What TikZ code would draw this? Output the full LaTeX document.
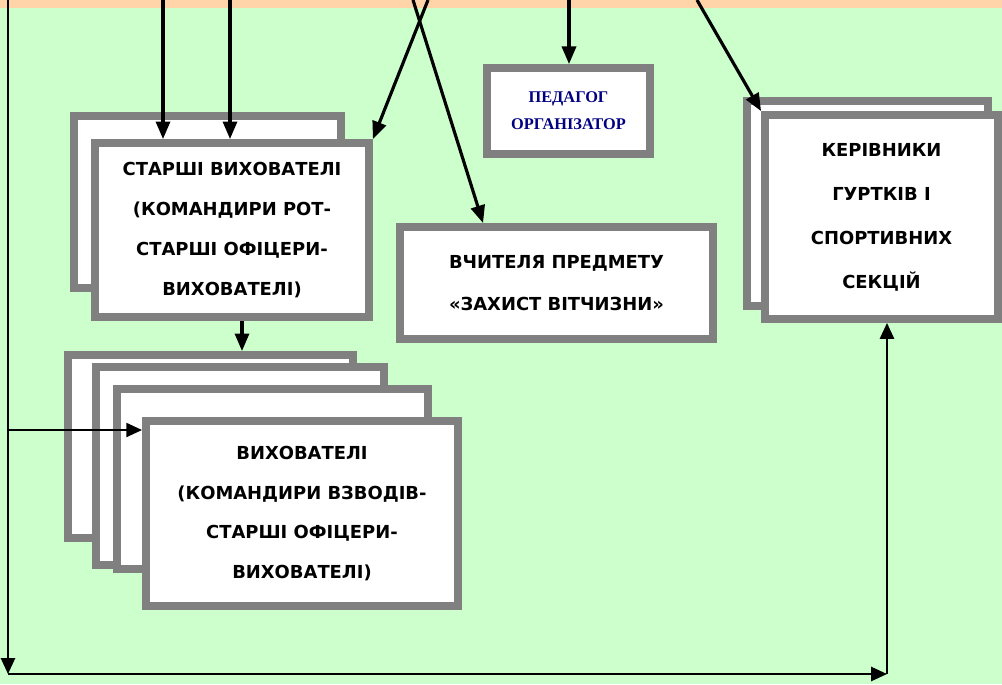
\documentclass[tikz,border=0pt]{standalone}
\usepackage{fontspec}
\usetikzlibrary{arrows.meta}
\newfontfamily\gothic{DejaVu Sans}
\newfontfamily\romanb{Liberation Serif}
\definecolor{bggreen}{RGB}{204,255,204}
\definecolor{toppeach}{RGB}{255,212,168}
\definecolor{boxgray}{RGB}{128,128,128}
\definecolor{navyblue}{RGB}{0,0,128}
\tikzset{
  frame/.style={draw=boxgray, fill=white, line width=4.5pt, inner sep=0pt, align=center},
  caps/.style={font=\gothic\bfseries\fontsize{10.2}{22.7}\selectfont},
  arr/.style={line width=1.8pt, -{Triangle[length=10pt,width=8pt]}},
  thinarr/.style={line width=1.2pt, -{Triangle[length=9pt,width=8pt]}}
}
\begin{document}
\begin{tikzpicture}[x=0.02cm,y=-0.02cm]
  \useasboundingbox (0,0) rectangle (1002,684);
  \fill[bggreen] (0,0) rectangle (1002,684);
  \fill[toppeach] (0,0) rectangle (1002,8);

  % back copies
  \node[frame, minimum width=5.34cm, minimum height=3.44cm] (starshiB) at (207.5,202) {};
  \node[frame, minimum width=4.82cm, minimum height=4.10cm] (kerivB) at (867.5,203.5) {};
  \node[frame, minimum width=5.70cm, minimum height=3.66cm] (vyhA) at (210.5,446.5) {};
  \node[frame, minimum width=5.76cm, minimum height=3.96cm] (vyhB) at (240,466) {};
  \node[frame, minimum width=6.22cm, minimum height=3.60cm] (vyhC) at (272.5,479) {};

  % front boxes
  \node[frame, caps, minimum width=5.48cm, minimum height=3.48cm] (starshi) at (232,230)
    {СТАРШІ ВИХОВАТЕЛІ\\(КОМАНДИРИ РОТ-\\СТАРШІ ОФІЦЕРИ-\\ВИХОВАТЕЛІ)};
  \node[frame, font=\romanb\bfseries\fontsize{9.3}{15.3}\selectfont, text=navyblue,
    minimum width=3.26cm, minimum height=1.72cm] (pedagog) at (568.5,111)
    {ПЕДАГОГ\\ОРГАНІЗАТОР};
  \node[frame, caps, font=\gothic\bfseries\fontsize{10.2}{24}\selectfont,
    minimum width=6.26cm, minimum height=2.24cm] (vchyteli) at (556.5,283)
    {ВЧИТЕЛЯ ПРЕДМЕТУ\\«ЗАХИСТ ВІТЧИЗНИ»};
  \node[frame, caps, font=\gothic\bfseries\fontsize{10.2}{25}\selectfont,
    minimum width=4.66cm, minimum height=4.08cm] (keriv) at (881.5,217)
    {КЕРІВНИКИ\\ГУРТКІВ І\\СПОРТИВНИХ\\СЕКЦІЙ};
  \node[frame, caps, minimum width=6.24cm, minimum height=3.70cm] (vyh) at (302,513.5)
    {ВИХОВАТЕЛІ\\(КОМАНДИРИ ВЗВОДІВ-\\СТАРШІ ОФІЦЕРИ-\\ВИХОВАТЕЛІ)};

  % lines coming from above
  \coordinate (t0) at (8,0);
  \coordinate (t1) at (163,0);
  \coordinate (t2) at (230,0);
  \coordinate (t3) at (428,0);
  \coordinate (t4) at (413,0);
  \coordinate (t5) at (569,0);
  \coordinate (t6) at (697,0);
  \coordinate (c1) at (8,674);
  \coordinate (c2) at (887,674);
  \coordinate (c3) at (8,430);

  \draw[arr] (t1) -- (t1 |- starshi.north);
  \draw[arr] (t2) -- (t2 |- starshi.north);
  \draw[arr] (t3) -- (starshi.north east);
  \draw[arr] (t4) -- ([xshift=1.74cm]vchyteli.north west);
  \draw[arr] (t5) -- (t5 |- pedagog.north);
  \draw[arr] (t6) -- (keriv.north west);
  \draw[arr] ([xshift=0.2cm]starshi.south) -- ([xshift=0.2cm]starshi.south |- vyhA.north);

  \draw[thinarr] (t0) -- (c1);
  \draw[thinarr] (c1) -- (c2);
  \draw[thinarr] (c2) -- (c2 |- keriv.south);
  \draw[thinarr] (c3) -- (c3 -| vyh.west);
\end{tikzpicture}
\end{document}
